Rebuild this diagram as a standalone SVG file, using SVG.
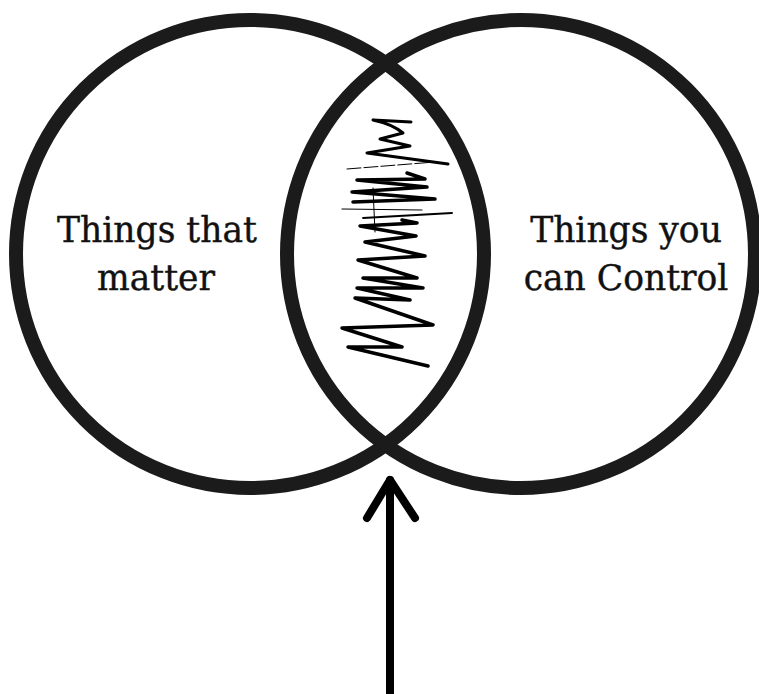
<svg xmlns="http://www.w3.org/2000/svg" width="759" height="694" viewBox="0 0 759 694">
<style>
.ring{fill:none;stroke:#1b1b1b;stroke-width:14}
.lbl{font-family:"DejaVu Serif","Liberation Serif",serif;font-size:34.5px;fill:#111;stroke:#111;stroke-width:0.4;text-anchor:middle}
.scr{fill:none;stroke:#000;stroke-linecap:round;stroke-linejoin:round}
.arrow{fill:none;stroke:#000;stroke-width:8;stroke-linecap:round;stroke-linejoin:round}
</style>
<rect width="759" height="694" fill="#fff"/>
<g id="matter">
<circle class="ring" cx="250" cy="254" r="234"/>
<text class="lbl" x="157" y="242">Things that</text>
<text class="lbl" x="156" y="290">matter</text>
</g>
<g id="control">
<circle class="ring" cx="521" cy="254" r="234"/>
<text class="lbl" x="626" y="242">Things you</text>
<text class="lbl" x="626" y="290">can Control</text>
</g>
<g id="intersection">
<path class="scr" stroke-width="3" d="M411,122 L373,120 Q392,124 403,133 L380,139 L410,146 L367,153 L448,164"/>
<path class="scr" stroke-width="1" stroke-dasharray="14,3" d="M347,169 L435,162"/>
<path class="scr" stroke-width="3.5" d="M407,173 L425,179 L357,180 L427,187 L352,192 L435,199 L353,202"/>
<path class="scr" stroke-width="1.2" d="M342,209 L422,210"/>
<path class="scr" stroke-width="1.8" d="M363,218 L452,213"/>
<path class="scr" stroke-width="1" d="M373,188 L375,232"/>
<path class="scr" stroke-width="3.5" d="M402,220 L417,223 L360,226 L416,236 L365,242 L425,256 L358,260 L417,278 L363,278 L423,288 L357,288 L410,300 L355,298 L433,325 L342,328 L402,347 L348,347 L428,366"/>
</g>
<g id="connectors">
<path class="arrow" d="M390,694 L390,480"/>
<path class="arrow" d="M367,518 L390,480 L415,518"/>
</g>
</svg>
